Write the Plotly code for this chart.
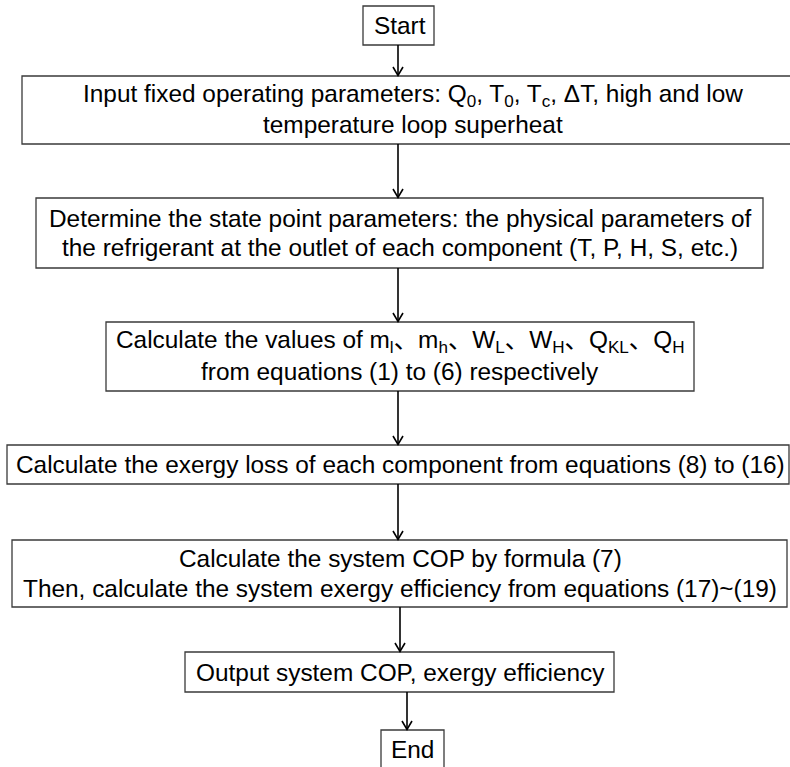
import plotly.graph_objects as go

# ---- content (text of each flowchart step, one entry per line) ----
step_names = ["start", "input", "state", "values", "exergy_loss", "cop", "output", "end"]
step_lines = [
    ["Start"],
    ["Input fixed operating parameters: Q<sub>0</sub>, T<sub>0</sub>, T<sub>c</sub>, ΔT, high and low",
     "temperature loop superheat"],
    ["Determine the state point parameters: the physical parameters of",
     "the refrigerant at the outlet of each component (T, P, H, S, etc.)"],
    ["Calculate the values of m<sub>l</sub>、m<sub>h</sub>、W<sub>L</sub>、W<sub>H</sub>、Q<sub>KL</sub>、Q<sub>H</sub>",
     "from equations (1) to (6) respectively"],
    ["Calculate the exergy loss of each component from equations (8) to (16)"],
    ["Calculate the system COP by formula (7)",
     "Then, calculate the system exergy efficiency from equations (17)~(19)"],
    ["Output system COP, exergy efficiency"],
    ["End"],
]

# ---- layout geometry (pixel space) ----
box_rects = [
    (363, 6, 434, 45),
    (22, 76, 791, 144),
    (36, 198, 763, 268),
    (106, 322, 694, 391),
    (7, 445, 789, 484),
    (12, 540, 787, 607),
    (185, 652, 614, 692),
    (381, 730, 444, 772),
]
text_cx = [400, 413, 400, 400, 400.5, 400, 400, 412.5]
line_gap = 29.5
arrow_x = [398, 398, 398, 398, 398, 400, 407]

W, H = 790, 767
fig = go.Figure()
fig.add_trace(go.Scatter(x=[0, W], y=[0, H], mode="markers",
                         marker=dict(opacity=0), hoverinfo="skip", showlegend=False))

shapes = []
annotations = []
font = dict(family="Liberation Sans, Arial, Noto Sans CJK SC, sans-serif", size=24.4, color="#000000")

for i, (x0, y0, x1, y1) in enumerate(box_rects):
    shapes.append(dict(type="rect", x0=x0, y0=y0, x1=x1, y1=y1, xref="x", yref="y",
                       line=dict(color="#3a3a3a", width=1.3), fillcolor="rgba(0,0,0,0)"))
    lines = step_lines[i]
    n = len(lines)
    if i == len(box_rects) - 1:
        cy = 749
    else:
        cy = (y0 + y1) / 2
    for k, t in enumerate(lines):
        y = cy + (k - (n - 1) / 2) * line_gap
        annotations.append(dict(x=text_cx[i], y=y, xref="x", yref="y", text=t,
                                showarrow=False, xanchor="center", yanchor="middle",
                                font=font))

# arrows between consecutive steps
for i in range(len(box_rects) - 1):
    ax = arrow_x[i]
    ya = box_rects[i][3]
    yb = box_rects[i + 1][1]
    shapes.append(dict(type="line", x0=ax, y0=ya, x1=ax, y1=yb - 0.5, xref="x", yref="y",
                       line=dict(color="#000000", width=1.6)))
    shapes.append(dict(type="path",
                       path=f"M {ax-5},{yb-9} L {ax},{yb-0.5} L {ax+5},{yb-9}",
                       xref="x", yref="y", line=dict(color="#000000", width=1.6)))

fig.update_layout(
    width=W, height=H,
    margin=dict(l=0, r=0, t=0, b=0),
    paper_bgcolor="white", plot_bgcolor="white",
    xaxis=dict(range=[0, W], visible=False, fixedrange=True),
    yaxis=dict(range=[H, 0], visible=False, fixedrange=True),
    shapes=shapes, annotations=annotations, showlegend=False,
)
fig.write_html("out.html", config={"displayModeBar": False},
               post_script="document.body.style.margin='0';document.body.style.overflow='hidden';")
